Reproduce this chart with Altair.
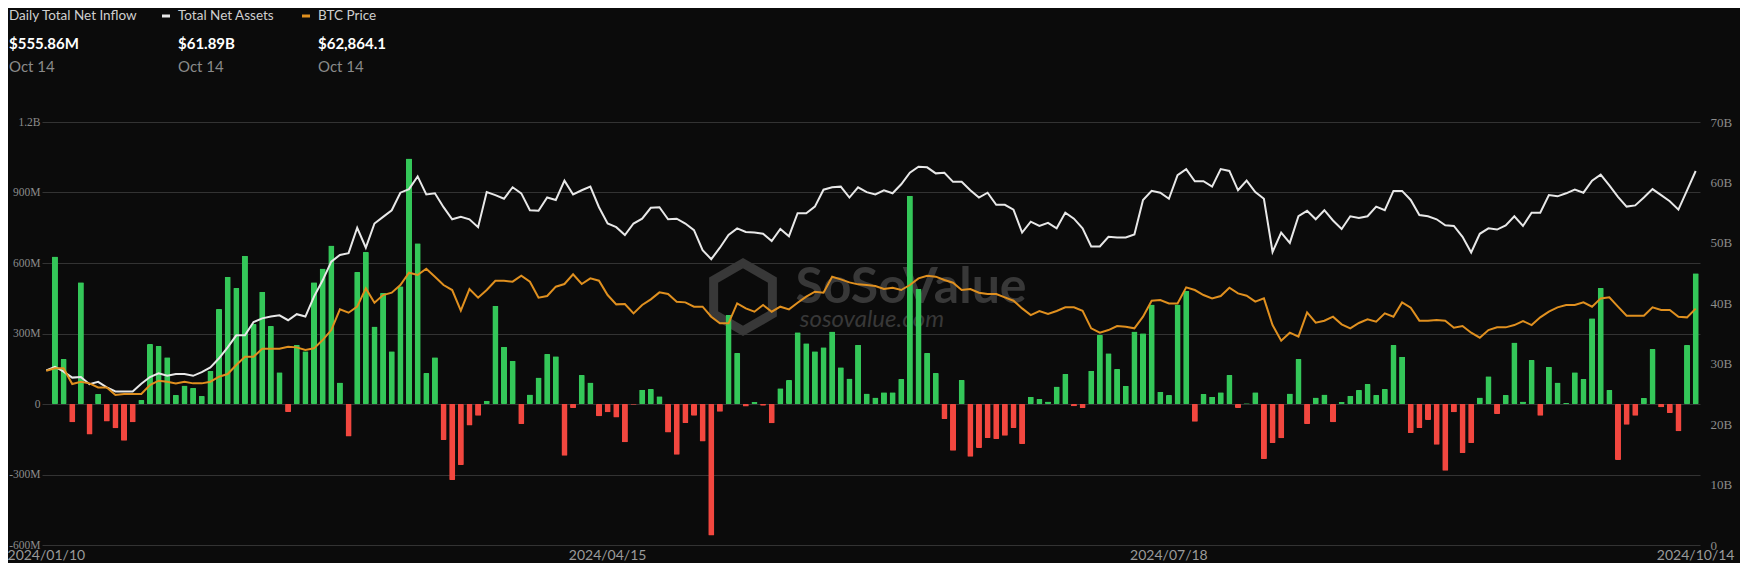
import altair as alt
import pandas as pd

# ---------------- data ----------------
market_holidays = ["2024-01-15", "2024-02-19", "2024-03-29", "2024-05-27",
                   "2024-06-19", "2024-07-04", "2024-09-02"]
_days = [d for d in pd.bdate_range("2024-01-10", "2024-10-14")
         if d.strftime("%Y-%m-%d") not in market_holidays]
dates = [d.strftime("%Y/%m/%d") for d in _days]

tick_dates = ["2024/01/10", "2024/04/15", "2024/07/18", "2024/10/14"]

# Daily total net inflow, millions USD
inflow = [None,
    628, 191, -78, 518, -130, 43, -74, -103, -156, -78,
    17, 255, 247, 199, 38, 79, 68, 34, 142, 404,
    542, 494, 631, 340, 478, 332, 135, -34, 251, 224,
    518, 577, 674, 92, -138, 562, 647, 330, 472, 224,
    501, 1045, 684, 132, 199, -153, -323, -260, -92, -50,
    14, 418, 244, 184, -85, 40, 113, 213, 203, -220,
    -17, 123, 92, -52, -35, -57, -163, -3, 61, 64,
    33, -121, -216, -81, -50, -160, -560, -33, 379, 217,
    -11, 10, -7, -82, 67, 102, 305, 258, 224, 241,
    308, 156, 109, 252, 45, 28, 50, 50, 106, 886,
    489, 217, 132, -64, -199, 102, -224, -187, -145, -149,
    -135, -102, -170, 31, 21, 11, 74, 128, -10, -17,
    142, 294, 216, 149, 78, 309, 301, 423, 52, 38,
    423, 482, -75, 43, 31, 50, 123, -17, 3, 50,
    -234, -166, -146, 45, 191, -85, 28, 40, -78, 10,
    35, 60, 85, 38, 64, 251, 201, -123, -102, -68,
    -173, -284, -35, -208, -166, 28, 118, -43, 38, 262,
    11, 187, -50, 159, 92, 4, 135, 106, 365, 494,
    60, -238, -88, -50, 26, 234, -14, -38, -116, 251,
    555.86]

# Total net assets, billions USD
assets = [
    28.9, 29.5, 28.7, 27.7, 27.8, 26.6, 27.0, 26.1, 25.4, 25.4,
    25.4, 26.7, 27.8, 28.4, 28.0, 28.3, 28.3, 28.0, 28.6, 29.4,
    30.9, 32.7, 34.7, 34.7, 36.9, 37.5, 37.8, 38.0, 37.2, 38.2,
    37.8, 41.1, 43.8, 46.9, 48.0, 48.3, 52.5, 49.2, 53.2, 54.3,
    55.4, 58.3, 58.9, 61.0, 58.0, 58.2, 55.9, 53.9, 54.3, 53.9,
    52.6, 58.4, 57.9, 57.3, 59.2, 58.2, 55.4, 55.3, 57.5, 57.1,
    60.3, 58.0, 58.7, 59.3, 55.9, 53.2, 52.6, 51.3, 53.2, 54.0,
    55.8, 55.9, 53.9, 54.0, 53.2, 52.1, 48.8, 47.3, 49.2, 51.3,
    52.4, 51.8, 51.7, 51.5, 50.3, 52.3, 51.1, 54.9, 54.9, 56.0,
    58.8, 59.2, 59.3, 57.5, 59.2, 58.4, 58.0, 58.7, 58.2, 59.7,
    61.6, 62.6, 62.5, 61.5, 61.6, 60.1, 60.1, 58.7, 57.5, 58.3,
    56.3, 56.3, 55.5, 51.7, 53.5, 52.8, 53.3, 52.4, 55.0, 54.0,
    52.4, 49.4, 49.4, 51.0, 50.9, 50.9, 51.4, 57.1, 58.6, 58.3,
    57.3, 61.2, 62.2, 60.2, 60.2, 59.3, 62.2, 61.9, 58.7, 60.3,
    58.4, 57.3, 48.5, 51.7, 50.0, 54.4, 55.3, 53.9, 55.4, 53.7,
    52.3, 54.4, 54.1, 54.4, 56.0, 55.4, 58.6, 58.6, 57.1, 54.6,
    54.4, 53.9, 52.9, 52.8, 51.0, 48.4, 51.5, 52.4, 52.2, 52.9,
    54.4, 52.8, 55.0, 55.0, 57.9, 57.7, 58.2, 58.8, 58.3, 60.3,
    61.3, 59.5, 57.6, 56.0, 56.2, 57.5, 58.9, 57.9, 56.9, 55.5,
    58.7, 61.89]

# BTC price, USD
btc = [
    46360, 46980, 46980, 42810, 43430, 42990, 41920, 41920, 39890, 40150,
    40150, 40150, 42550, 43700, 43430, 42990, 43430, 42990, 42990, 43430,
    44760, 45470, 47870, 50080, 50080, 52210, 52210, 52210, 52740, 52560,
    51850, 52300, 54510, 57170, 62670, 61780, 63380, 68250, 64440, 66480,
    67100, 69140, 72420, 71800, 73480, 71360, 69140, 67810, 62320, 68080,
    65770, 67810, 70290, 70290, 70030, 71620, 70030, 65770, 66210, 68700,
    69410, 71980, 69410, 70910, 70290, 66480, 64000, 64090, 61600, 63820,
    65330, 67190, 66750, 64710, 64530, 63380, 63380, 60720, 58950, 58950,
    64260, 62930, 62050, 63820, 62050, 63380, 62670, 64440, 66040, 67370,
    67100, 71360, 70650, 69850, 69320, 69140, 68870, 68080, 68430, 67810,
    69140, 70910, 71620, 71360, 70470, 69760, 67810, 68080, 67100, 66750,
    66750, 65860, 64970, 62930, 61160, 62230, 61430, 62230, 63200, 63200,
    62310, 57620, 56460, 57170, 58240, 58060, 57620, 60720, 64970, 65150,
    64260, 64260, 68520, 67810, 66480, 65590, 66210, 68430, 66920, 66300,
    64710, 65590, 58500, 54340, 56460, 55400, 61870, 59120, 59660, 60720,
    58680, 57620, 59040, 60010, 59390, 61600, 60720, 64530, 63110, 59660,
    59660, 59830, 59660, 57790, 58240, 56460, 55130, 57170, 57880, 57880,
    58500, 59570, 58500, 60540, 62050, 63200, 63820, 63820, 64530, 63380,
    65590, 65860, 63380, 60980, 60980, 60980, 63200, 62490, 62490, 60720,
    60540, 62864.1]

series_names = ["Daily Total Net Inflow", "Total Net Assets", "BTC Price"]
latest_values = ["$555.86M", "$61.89B", "$62,864.1"]
latest_date = "Oct 14"
watermark = ["SoSoValue", "sosovalue.com"]

df = pd.DataFrame({"date": dates, "inflow": inflow, "assets": assets, "btc": btc})

# ---------------- style ----------------
BG = "#0b0b0b"
GREEN = "#34c759"
RED = "#f2473f"
WHITE_LINE = "#e8e8e8"
ORANGE = "#e0901f"
AXIS_LBL = "#8c8c8c"
GRID = "#333333"
WM = "#383838"

x_enc = alt.X(
    "date:O", sort=None, title=None,
    scale=alt.Scale(domain=dates, paddingInner=0.3, paddingOuter=0.15),
    axis=alt.Axis(values=tick_dates, labelAngle=0, labelOverlap=False,
                  domain=False, ticks=False, grid=False,
                  labelColor="#9a9a9a", labelFont="Lato", labelFontSize=14,
                  labelPadding=3),
)

bars = alt.Chart().mark_bar(cornerRadius=1).encode(
    x=x_enc,
    y=alt.Y("inflow:Q", title=None,
            scale=alt.Scale(domain=[-600, 1200], nice=False),
            axis=alt.Axis(orient="left", values=[-600, -300, 0, 300, 600, 900, 1200],
                          grid=True, gridColor=GRID, gridWidth=1,
                          domain=False, ticks=False,
                          labelExpr="datum.value == 0 ? '0' : (abs(datum.value) >= 1000 ? format(datum.value / 1000, '.1~f') + 'B' : datum.value + 'M')",
                          labelFont="Liberation Serif", labelFontSize=11.5,
                          labelColor=AXIS_LBL, labelPadding=2)),
    color=alt.condition("datum.inflow >= 0", alt.value(GREEN), alt.value(RED)),
)

white = alt.Chart().mark_line(color=WHITE_LINE, strokeWidth=2).encode(
    x=x_enc,
    y=alt.Y("assets:Q", title=None,
            scale=alt.Scale(domain=[0, 70], nice=False),
            axis=alt.Axis(orient="right", values=[0, 10, 20, 30, 40, 50, 60, 70],
                          grid=False, domain=False, ticks=False,
                          labelExpr="datum.value == 0 ? '0' : datum.value + 'B'",
                          labelFont="Liberation Serif", labelFontSize=13,
                          labelColor=AXIS_LBL, labelPadding=10)),
)

orange = alt.Chart().mark_line(color=ORANGE, strokeWidth=2).encode(
    x=x_enc,
    y=alt.Y("btc:Q", title=None, scale=alt.Scale(domain=[0, 112500], nice=False), axis=None),
)

one = alt.InlineData(values=[{"k": 0}])


def label(text, x, y, size, color, weight="normal", style="normal", align="left"):
    return alt.Chart(one).mark_text(
        align=align, baseline="middle", font="Lato", fontSize=size,
        fontWeight=weight, fontStyle=style, color=color,
    ).encode(x=alt.value(x), y=alt.value(y), text=alt.value(text))


def dash(x, color):
    return alt.Chart(one).mark_rule(color=color, strokeWidth=3).encode(
        x=alt.value(x), x2=alt.value(x + 8), y=alt.value(-106))


hexagon = alt.Chart(one).mark_point(
    shape="M0,-1L0.866,-0.5L0.866,0.5L0,1L-0.866,0.5L-0.866,-0.5Z",
    size=4600, filled=False, stroke=WM, strokeWidth=9, opacity=1,
).encode(x=alt.value(701), y=alt.value(175))

wm_big = label(watermark[0], 869, 166, 50, WM, weight="bold", align="center")
wm_small = label(watermark[1], 830, 198, 24, WM, style="italic", align="center")

HX = -33
header = [
    label(series_names[0], HX, -106, 13.5, "#cfcfcf"),
    dash(120, WHITE_LINE),
    label(series_names[1], 136, -106, 13.5, "#cfcfcf"),
    dash(260, ORANGE),
    label(series_names[2], 276, -106, 13.5, "#cfcfcf"),
    label(latest_values[0], HX, -78, 15, "#ffffff", weight="bold"),
    label(latest_values[1], 136, -78, 15, "#ffffff", weight="bold"),
    label(latest_values[2], 276, -78, 15, "#ffffff", weight="bold"),
    label(latest_date, HX, -55, 15, "#8a8a8a"),
    label(latest_date, 136, -55, 15, "#8a8a8a"),
    label(latest_date, 276, -55, 15, "#8a8a8a"),
]

chart = alt.layer(
    hexagon, wm_big, wm_small, bars, white, orange, *header, data=df
).resolve_scale(y="independent").properties(
    width=1658, height=423,
    autosize=alt.AutoSizeParams(type="none"),
    padding={"left": 34, "top": 114, "right": 40, "bottom": 18},
    background=BG,
).configure_view(stroke=None)

chart.save("out.html", embed_options={"renderer": "svg", "actions": False})
